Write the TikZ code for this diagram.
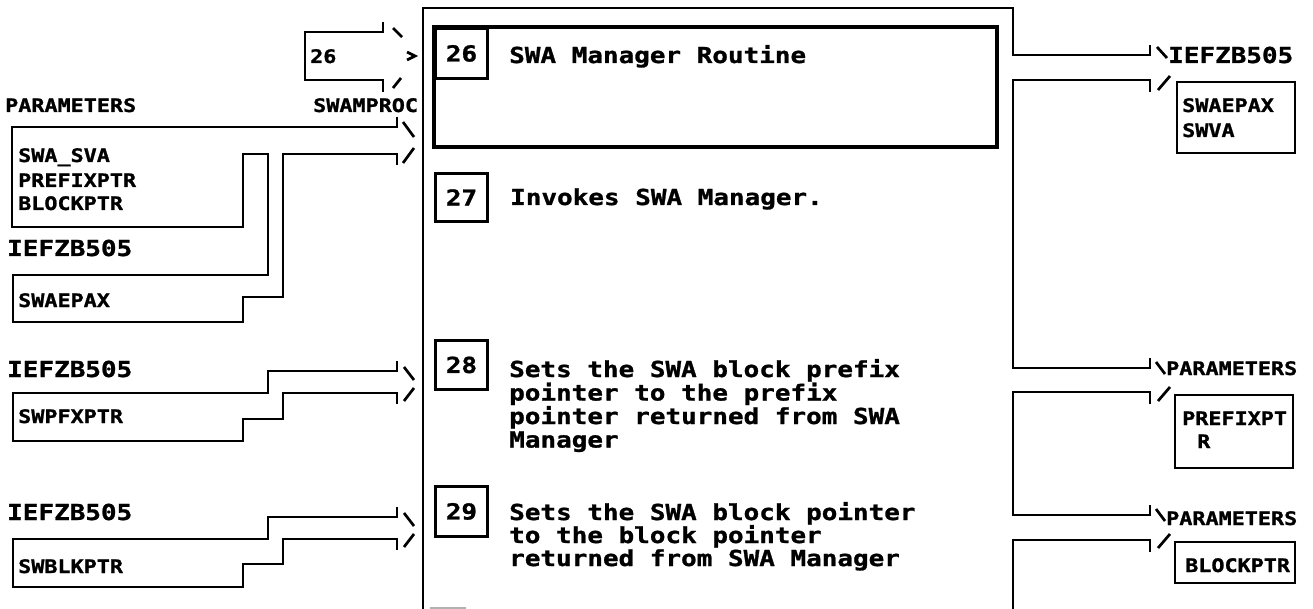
\documentclass[tikz,border=0pt]{standalone}
\usepackage{fontspec}
\newfontfamily\bigface[FakeStretch=1.18, BoldFeatures={FakeBold=1.2}]{DejaVu Sans Mono}
\newfontfamily\smallface[FakeStretch=1.17, BoldFeatures={FakeBold=1.2}]{DejaVu Sans Mono}
\begin{document}
\begin{tikzpicture}[x=1pt,y=-1pt]
\tikzset{
  wire/.style={line width=2.7pt, line join=miter},
  tick/.style={line width=2.7pt},
  big/.style={font=\bigface\bfseries\fontsize{22}{24}\selectfont, inner sep=0pt, anchor=base west},
  small/.style={font=\smallface\bfseries\fontsize{18.6}{20}\selectfont, inner sep=0pt, anchor=base west},
  numbox/.style={draw, line width=2.9pt, minimum width=52pt, minimum height=50pt, inner sep=0pt,
    anchor=north west, font=\bigface\bfseries\fontsize{22}{24}\selectfont},
  plainbox/.style={line width=2.7pt},
}
\useasboundingbox (0,0) rectangle (1313,609);

% ---------- main routine frame ----------
\draw[wire] (423,609) -- (423,8) -- (1013,8) -- (1013,55) -- (1150,55) -- (1150,45);
\draw[wire] (1150,92) -- (1150,80) -- (1013,80) -- (1013,368) -- (1150,368) -- (1150,358);
\draw[wire] (1150,404) -- (1150,392) -- (1013,392) -- (1013,515) -- (1150,515) -- (1150,505);
\draw[wire] (1150,552) -- (1150,540) -- (1013,540) -- (1013,609);
\draw[gray!60, line width=2pt] (430,607.5) -- (466,607.5);

% heading box
\draw[line width=3.2pt] (434,27) rectangle (997,147);
\node[numbox] (n26) at (434,27) {26};
\node[big] (t26) at (509,63) {SWA Manager Routine};

% steps
\node[numbox, minimum height=48pt] (n27) at (434,172) {27};
\node[big] (t27) at (510,205) {Invokes SWA Manager.};

\node[numbox, minimum height=49pt] (n28) at (434,339) {28};
\node[big] (t28a) at (509,377) {Sets the SWA block prefix};
\node[big] (t28b) at (509,400.5) {pointer to the prefix};
\node[big] (t28c) at (509,424) {pointer returned from SWA};
\node[big] (t28d) at (509,447.5) {Manager};

\node[numbox] (n29) at (434,485) {29};
\node[big] (t29a) at (509,520) {Sets the SWA block pointer};
\node[big] (t29b) at (509,543) {to the block pointer};
\node[big] (t29c) at (509,566) {returned from SWA Manager};

% ---------- entry: SWAMPROC from step 26 ----------
\draw[wire] (383,22) -- (383,32) -- (305,32) -- (305,80) -- (383,80) -- (383,92);
\draw[tick] (393,28) -- (402,37);
\draw[tick] (407,52) -- (415,56) -- (407,60);
\draw[tick] (393,88) -- (401,78);
\node[small] (in26) at (310,63) {26};
\node[small] (swamproc) at (313,112) {SWAMPROC};

% ---------- input: PARAMETERS and IEFZB505 ----------
\node[small] (parmL) at (5,112) {PARAMETERS};
\draw[wire] (397,117) -- (397,127) -- (12,127) -- (12,227) -- (243,227) -- (243,154)
  -- (268,154) -- (268,275) -- (13,275) -- (13,322) -- (243,322) -- (243,297)
  -- (283,297) -- (283,154) -- (397,154) -- (397,165);
\draw[tick] (403,122) -- (414,137);
\draw[tick] (403,163) -- (414,148);
\node[small] (p1) at (18,162) {SWA\_SVA};
\node[small] (p2) at (18,187) {PREFIXPTR};
\node[small] (p3) at (18,210) {BLOCKPTR};
\node[big] (zbA) at (7,256) {IEFZB505};
\node[small] (epax) at (18,307) {SWAEPAX};

% ---------- input: SWPFXPTR ----------
\node[big] (zbB) at (7,377) {IEFZB505};
\draw[wire] (397,361) -- (397,371) -- (268,371) -- (268,393) -- (13,393) -- (13,441)
  -- (243,441) -- (243,419) -- (283,419) -- (283,393) -- (397,393) -- (397,404);
\draw[tick] (404,367) -- (414,380);
\draw[tick] (404,401) -- (414,388);
\node[small] (pfx) at (18,423) {SWPFXPTR};

% ---------- input: SWBLKPTR ----------
\node[big] (zbC) at (7,520) {IEFZB505};
\draw[wire] (397,507) -- (397,517) -- (268,517) -- (268,539) -- (13,539) -- (13,587)
  -- (243,587) -- (243,564) -- (283,564) -- (283,539) -- (397,539) -- (397,550);
\draw[tick] (404,513) -- (414,526);
\draw[tick] (404,547) -- (414,534);
\node[small] (blk) at (18,573) {SWBLKPTR};

% ---------- outputs ----------
\draw[tick] (1157,47) -- (1167,58);
\draw[tick] (1158,90) -- (1170,76);
\node[big] (zbR) at (1168,63) {IEFZB505};
\draw[plainbox] (1177,82) rectangle (1295,153);
\node[small] (o1) at (1182,112) {SWAEPAX};
\node[small] (o2) at (1182,137) {SWVA};

\draw[tick] (1156,362) -- (1165,374);
\draw[tick] (1158,401) -- (1170,387);
\node[small] (parmR1) at (1166,375) {PARAMETERS};
\draw[plainbox] (1175,395) rectangle (1293,468);
\node[small] (o3) at (1182,425) {PREFIXPT};
\node[small] (o4) at (1197,448) {R};

\draw[tick] (1156,509) -- (1165,521);
\draw[tick] (1158,548) -- (1170,534);
\node[small] (parmR2) at (1166,525) {PARAMETERS};
\draw[plainbox] (1175,542) rectangle (1295,583);
\node[small] (o5) at (1185,572) {BLOCKPTR};
\end{tikzpicture}
\end{document}
